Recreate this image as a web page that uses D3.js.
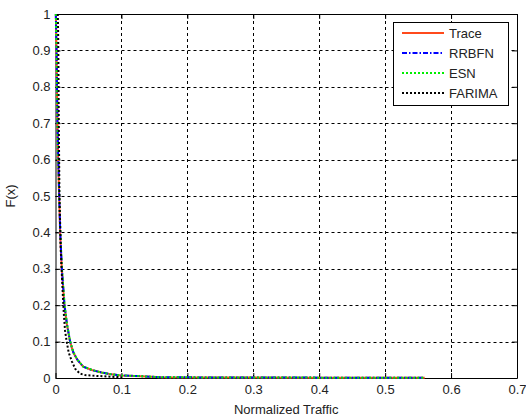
<!DOCTYPE html>
<html><head><meta charset="utf-8">
<script src="https://cdn.jsdelivr.net/npm/d3@7"></script>
<style>body{margin:0;background:#fff}svg{display:block}text{font-family:Arial,"Liberation Sans",sans-serif}</style>
</head><body>
<script>
const xTicks = [0,0.1,0.2,0.3,0.4,0.5,0.6,0.7];
const yTicks = [0,0.1,0.2,0.3,0.4,0.5,0.6,0.7,0.8,0.9,1];
const seriesNames = ["Trace","RRBFN","ESN","FARIMA"];
const traceX = [0.0005,0.001,0.0015,0.003,0.004,0.0055,0.007,0.0095,0.0135,0.017,0.022,0.027,0.033,0.042,0.055,0.07,0.085,0.1,0.13,0.16,0.25,0.4,0.56];
const traceY = [1.0,0.96,0.9,0.7,0.6,0.5,0.4,0.3,0.2,0.15,0.1,0.07,0.05,0.031,0.022,0.015,0.01,0.007,0.005,0.002,0.0015,0.001,0.001];
const rrbfnX = [0.0005,0.001,0.0016,0.003,0.0042,0.0056,0.0072,0.0097,0.0137,0.0172,0.0222,0.0272,0.0332,0.0422,0.055,0.07,0.085,0.1,0.13,0.16,0.25,0.4,0.56];
const rrbfnY = [1.0,0.95,0.9,0.7,0.6,0.5,0.4,0.3,0.2,0.15,0.1,0.07,0.05,0.031,0.022,0.015,0.01,0.007,0.005,0.002,0.0015,0.001,0.001];
const esnX = [0.0005,0.001,0.0017,0.0032,0.0043,0.0057,0.0073,0.0098,0.0138,0.0173,0.0223,0.0273,0.0333,0.0423,0.056,0.07,0.085,0.1,0.13,0.16,0.25,0.4,0.56];
const esnY = [1.0,0.96,0.9,0.7,0.6,0.5,0.4,0.3,0.2,0.15,0.1,0.07,0.05,0.031,0.022,0.015,0.01,0.007,0.005,0.002,0.0015,0.001,0.001];
const farimaX = [0.0035,0.004,0.0045,0.005,0.006,0.008,0.0105,0.0125,0.0145,0.017,0.02,0.025,0.03,0.037,0.045,0.06,0.08,0.1];
const farimaY = [1.0,0.95,0.85,0.7,0.5,0.35,0.25,0.18,0.13,0.1,0.07,0.045,0.025,0.012,0.008,0.006,0.004,0.002];

const W=526,H=419;
const m={l:55.5,r:9,t:14,b:41};
const svg=d3.select("body").append("svg").attr("width",W).attr("height",H);
const x=d3.scaleLinear().domain([0,0.7]).range([m.l,W-m.r]);
const y=d3.scaleLinear().domain([0,1]).range([H-m.b,m.t]);
const g=svg.append("g");

// grid
g.selectAll(".gx").data(xTicks.slice(1,-1)).enter().append("line")
 .attr("x1",d=>Math.round(x(d))+0.5).attr("x2",d=>Math.round(x(d))+0.5)
 .attr("y1",y(0)).attr("y2",y(1)).attr("stroke","#000").attr("stroke-width",1).attr("stroke-dasharray","3,3");
g.selectAll(".gy").data(yTicks.slice(1,-1)).enter().append("line")
 .attr("y1",d=>Math.round(y(d))+0.5).attr("y2",d=>Math.round(y(d))+0.5)
 .attr("x1",x(0)).attr("x2",x(0.7)).attr("stroke","#000").attr("stroke-width",1).attr("stroke-dasharray","3,3");

// axes
const fmt=d=>d===0?"0":(d===1?"1":d3.format(".1f")(d));
const axB=g.append("g").attr("transform",`translate(0,${y(0)})`).call(d3.axisBottom(x).tickValues(xTicks).tickFormat(fmt).tickSizeInner(-5).tickSizeOuter(0).tickPadding(7));
const axL=g.append("g").attr("transform",`translate(${x(0)},0)`).call(d3.axisLeft(y).tickValues(yTicks).tickFormat(fmt).tickSizeInner(-5).tickSizeOuter(0).tickPadding(5));
const axT=g.append("g").attr("transform",`translate(0,${y(1)})`).call(d3.axisTop(x).tickValues(xTicks).tickFormat("").tickSizeInner(-5).tickSizeOuter(0));
const axR=g.append("g").attr("transform",`translate(${x(0.7)},0)`).call(d3.axisRight(y).tickValues(yTicks).tickFormat("").tickSizeInner(-5).tickSizeOuter(0));
[axB,axL,axT,axR].forEach(a=>{a.select(".domain").attr("stroke","#000");a.selectAll("line").attr("stroke","#000");a.selectAll("text").attr("fill","#222").style("font-size","13px").style("font-family","Arial,'Liberation Sans',sans-serif");});

// lines
const mk=(xs,ys)=>xs.map((v,i)=>[v,ys[i]]);
const line=d3.line().x(d=>x(d[0])).y(d=>y(d[1]));
const styles=[
 {data:mk(traceX,traceY),color:"#ff4a1c",dash:null,w:2},
 {data:mk(rrbfnX,rrbfnY),color:"#0000ff",dash:"5,2,1.5,2",w:2},
 {data:mk(esnX,esnY),color:"#00ee00",dash:"2,2",w:2},
 {data:mk(farimaX,farimaY),color:"#000",dash:"2,2",w:2}
];
styles.forEach(s=>{
 g.append("path").attr("d",line(s.data)).attr("fill","none").attr("stroke",s.color).attr("stroke-width",s.w).attr("stroke-dasharray",s.dash);
});

// legend
const lg=svg.append("g");
lg.append("rect").attr("x",393.5).attr("y",22.5).attr("width",115).attr("height",83).attr("fill","#fff").attr("stroke","#000").attr("stroke-width",1);
seriesNames.forEach((n,i)=>{
 const yy=33+i*20;
 const s=styles[i];
 lg.append("line").attr("x1",402).attr("x2",444).attr("y1",yy).attr("y2",yy).attr("stroke",s.color).attr("stroke-width",s.w).attr("stroke-dasharray",s.dash);
 lg.append("text").attr("x",449).attr("y",yy+5).text(n).attr("fill","#222").style("font-size","13px");
});

// labels
svg.append("text").attr("x",(x(0)+x(0.7))/2).attr("y",414).attr("text-anchor","middle").attr("fill","#222").style("font-size","13px").text("Normalized Traffic");
svg.append("text").attr("transform",`translate(15,${y(0.5)}) rotate(-90)`).attr("text-anchor","middle").attr("fill","#222").style("font-size","13px").text("F(x)");
</script>
</body></html>
